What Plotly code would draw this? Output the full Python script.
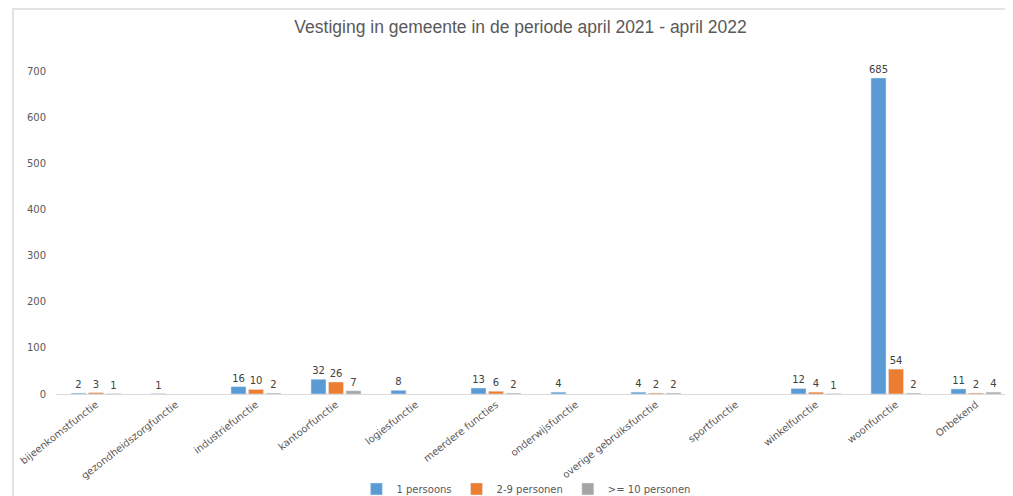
import plotly.graph_objects as go

categories = ["bijeenkomstfunctie", "gezondheidszorgfunctie", "industriefunctie",
              "kantoorfunctie", "logiesfunctie", "meerdere functies", "onderwijsfunctie",
              "overige gebruiksfunctie", "sportfunctie", "winkelfunctie", "woonfunctie",
              "Onbekend"]
een_persoons = [2, 1, 16, 32, 8, 13, 4, 4, None, 12, 685, 11]
twee_negen = [3, None, 10, 26, None, 6, None, 2, None, 4, 54, 2]
tien_plus = [1, None, 2, 7, None, 2, None, 2, None, 1, 2, 4]
series_names = ["1 persoons", "2-9 personen", ">= 10 personen"]
colors = ["#5B9BD5", "#ED7D31", "#A5A5A5"]
y_ticks = [0, 100, 200, 300, 400, 500, 600, 700]

fig = go.Figure()
for name, vals, col in zip(series_names, [een_persoons, twee_negen, tien_plus], colors):
    fig.add_trace(go.Bar(
        x=categories, y=vals, name=name, marker_color=col,
        text=[("" if v is None else str(v)) for v in vals],
        textposition="outside", cliponaxis=False, constraintext="none",
        textfont=dict(size=10, color="#404040", family="DejaVu Sans"),
    ))

fig.update_layout(
    width=1013, height=496,
    margin=dict(l=48, r=5, t=63, b=110, autoexpand=False),
    paper_bgcolor="white", plot_bgcolor="white",
    barmode="group", bargap=0.344, bargroupgap=0.14,
    title=dict(text="Vestiging in gemeente in de periode april 2021 - april 2022",
               x=0.506, xanchor="center", y=0.962, yanchor="middle",
               font=dict(size=17.5, color="#595959",
                         family="Liberation Sans Narrow, Liberation Sans, Arial")),
    font=dict(family="DejaVu Sans", color="#595959", size=10),
    legend=dict(orientation="h", x=0.49, xanchor="center", y=-0.294, yanchor="middle",
                bgcolor="rgba(0,0,0,0)",
                font=dict(size=10, color="#595959"), itemwidth=30, traceorder="normal"),
    showlegend=True,
)
fig.update_xaxes(showline=True, linecolor="#D9D9D9", linewidth=1, tickangle=-38,
                 ticks="", tickfont=dict(size=10, color="#595959"), automargin=False)
fig.update_yaxes(range=[0, 700], tickvals=y_ticks, showgrid=False, zeroline=False,
                 showline=False, ticks="", ticklabelstandoff=9,
                 tickfont=dict(size=10, color="#595959"), automargin=False)

fig.add_shape(type="rect", xref="paper", yref="paper",
              x0=-0.0448, x1=1.05, y0=-0.5, y1=1.192,
              line=dict(color="#D9D9D9", width=1.5), fillcolor="rgba(0,0,0,0)", layer="below")

fig.write_html("out.html")
